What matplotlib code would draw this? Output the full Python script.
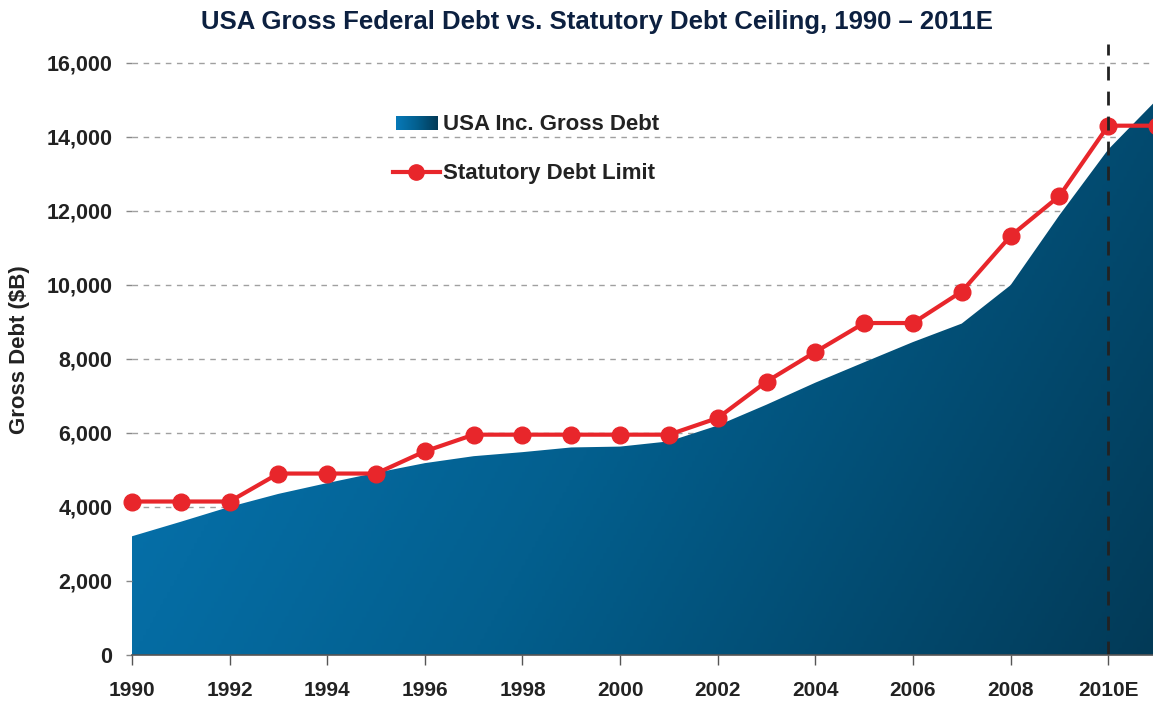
import numpy as np
import matplotlib
matplotlib.use("Agg")
import matplotlib.pyplot as plt
from matplotlib.colors import LinearSegmentedColormap
from matplotlib.lines import Line2D

plt.rcParams['font.family'] = ['Liberation Sans', 'DejaVu Sans']
plt.rcParams['font.weight'] = 'bold'

# data ($B)
years = list(range(1990, 2012))
gross_debt = [3206, 3598, 4001, 4351, 4643, 4920, 5181, 5369, 5478, 5605,
              5628, 5769, 6198, 6760, 7354, 7905, 8451, 8950, 9986, 11876,
              13650, 15000]
debt_limit = [4145, 4145, 4145, 4900, 4900, 4900, 5500, 5950, 5950, 5950,
              5950, 5950, 6400, 7384, 8184, 8965, 8965, 9815, 11315, 12394,
              14294, 14294]
tick_years = list(range(1990, 2011, 2))
tick_labels = [str(y) for y in tick_years[:-1]] + ['2010E']
title = 'USA Gross Federal Debt vs. Statutory Debt Ceiling, 1990 \u2013 2011E'

blue_cmap = LinearSegmentedColormap.from_list('debt', ['#0779b8', '#035f8e', '#023a57'])
red = '#e8262b'

fig = plt.figure(figsize=(11.53, 7.01), dpi=100)
ax = fig.add_axes([132 / 1153, 46 / 701, 1025 / 1153, 611 / 701])

ymax = 16500
ax.set_xlim(1990, 2011)
ax.set_ylim(0, ymax)

# gradient-filled area
poly = ax.fill_between(years, gross_debt, 0, color='none', lw=0)
gx, gy = np.meshgrid(np.linspace(0, 1, 300), np.linspace(0, 1, 300))
grad = 0.75 * gx + 0.25 * (1 - gy)
img = ax.imshow(grad, cmap=blue_cmap, extent=[1990, 2011, 0, ymax], origin='lower',
                aspect='auto', zorder=1, vmin=0, vmax=1)
img.set_clip_path(poly.get_paths()[0], transform=ax.transData)

# grid
for v in range(2000, 16001, 2000):
    ax.axhline(v, color='#a0a0a0', lw=1, ls=(0, (4, 4)), zorder=0)

# debt limit line
ax.plot(years, debt_limit, color=red, lw=3, marker='o', ms=12, zorder=3,
        clip_on=False)

# 2010 divider
ax.axvline(2010, color='#222222', lw=2, ls=(0, (5, 4)), zorder=4)

fig.text(597 / 1153, 1 - 22 / 701, title, fontsize=18.5, fontweight='bold',
         color='#0c2040', ha='center', va='center')
ax.set_ylabel('Gross Debt ($B)', fontsize=16, fontweight='bold', color='#222222', labelpad=12)

ax.set_xticks(tick_years)
ax.set_xticklabels(tick_labels)
ax.set_yticks(range(0, 16001, 2000))
ax.set_yticklabels([f'{v:,}' for v in range(0, 16001, 2000)])
ax.tick_params(axis='x', length=7, width=1, color='#555555', pad=12, labelsize=15,
               labelcolor='#222222')
ax.tick_params(axis='y', length=4, width=1, color='#888888', pad=10, labelsize=15.5,
               labelcolor='#222222')
for s in ['top', 'right', 'left']:
    ax.spines[s].set_visible(False)
ax.spines['bottom'].set_color('#555555')
ax.spines['bottom'].set_linewidth(1.2)
ax.spines['bottom'].set_zorder(5)

# legend drawn by hand
lax = fig.add_axes([396 / 1153, 1 - 130 / 701, 41 / 1153, 14 / 701])
lax.imshow(np.linspace(0, 1, 50).reshape(1, -1), cmap=blue_cmap, aspect='auto')
lax.axis('off')
fig.text(443 / 1153, 1 - 124 / 701, 'USA Inc. Gross Debt', fontsize=16, fontweight='bold',
         color='#222222', va='center')
ly2 = 1 - 172 / 701
fig.lines.append(Line2D([393 / 1153, 440 / 1153], [ly2, ly2], transform=fig.transFigure,
                        color=red, lw=3))
fig.lines.append(Line2D([416 / 1153], [ly2], transform=fig.transFigure, color=red,
                        marker='o', ms=11))
fig.text(443 / 1153, ly2 - 1 / 701, 'Statutory Debt Limit', fontsize=16, fontweight='bold',
         color='#222222', va='center')

fig.savefig('out.png', dpi=100)
